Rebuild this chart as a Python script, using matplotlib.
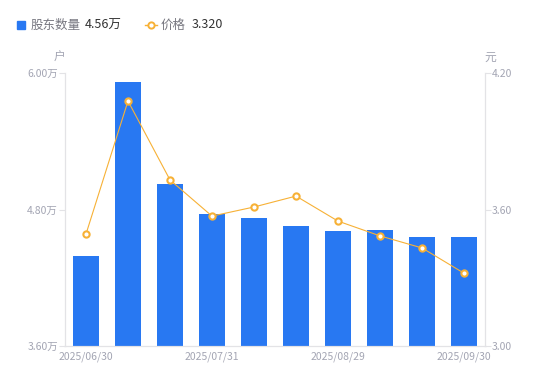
import matplotlib.pyplot as plt
import numpy as np

plt.rcParams['font.family'] = ['Noto Sans CJK SC', 'DejaVu Sans']

# data
dates = ['2025/06/30', '2025/07/10', '2025/07/20', '2025/07/31', '2025/08/10',
         '2025/08/20', '2025/08/29', '2025/09/10', '2025/09/19', '2025/09/30']
holders = [4.39, 5.92, 5.02, 4.76, 4.725, 4.655, 4.61, 4.62, 4.558, 4.56]  # 万户
price = [3.492, 4.077, 3.73, 3.571, 3.611, 3.659, 3.549, 3.484, 3.431, 3.320]
left_ticks = [3.6, 4.8, 6.0]
right_ticks = [3.0, 3.6, 4.2]
shown = [0, 3, 6, 9]

blue = '#2878F2'
orange = '#F7B136'
grey_txt = '#A3A5B3'
axis_c = '#E3E3E6'

fig = plt.figure(figsize=(5.5, 3.81), dpi=100)
ax = fig.add_axes([65 / 550, 1 - 346 / 381, 420 / 550, 273 / 381])
x = np.arange(len(dates))
ax.bar(x, holders, width=0.6, color=blue, zorder=2)
ax.set_xlim(-0.5, len(dates) - 0.5)
ax.set_ylim(left_ticks[0], left_ticks[-1])
ax.set_yticks(left_ticks)
ax.set_yticklabels([f'{v:.2f}万' for v in left_ticks])
ax.set_xticks([x[i] for i in shown])
ax.set_xticklabels([dates[i] for i in shown])

ax2 = ax.twinx()
ax2.plot(x, price, color=orange, lw=0.8, marker='o', ms=4.5, mfc='white',
         mec=orange, mew=1.5, zorder=3)
ax2.set_ylim(right_ticks[0], right_ticks[-1])
ax2.set_yticks(right_ticks)
ax2.set_yticklabels([f'{v:.2f}' for v in right_ticks])

for a in (ax, ax2):
    a.spines['top'].set_visible(False)
    for s in ('left', 'right', 'bottom'):
        a.spines[s].set_color(axis_c)
        a.spines[s].set_linewidth(0.8)
    a.tick_params(colors=axis_c, labelcolor=grey_txt, labelsize=7.5, length=4, width=0.8)
ax.tick_params(axis='x', length=0, pad=4)
ax.tick_params(axis='y', pad=1)
ax2.tick_params(axis='y', pad=1)

fig.text(59 / 550, 1 - 57 / 381, '户', color=grey_txt, fontsize=8.5, ha='center', va='center')
fig.text(490 / 550, 1 - 57 / 381, '元', color=grey_txt, fontsize=8.5, ha='center', va='center')

# legend
ly = 1 - 25 / 381
fig.patches.append(plt.Rectangle((17 / 550, 1 - 29 / 381), 8 / 550, 8 / 381,
                                 transform=fig.transFigure, color=blue, figure=fig))
fig.text(31 / 550, ly, '股东数量', color='#777780', fontsize=9, va='center')
fig.text(85 / 550, ly, f'{holders[-1]:.2f}万', color='#333333', fontsize=9, va='center')
fig.lines.append(plt.Line2D([145 / 550, 157 / 550], [ly, ly], transform=fig.transFigure,
                            color=orange, lw=1, figure=fig))
fig.lines.append(plt.Line2D([151 / 550], [ly], transform=fig.transFigure, ls='none',
                            marker='o', ms=4.5, mfc='white', mec=orange, mew=1.4, figure=fig))
fig.text(161 / 550, ly, '价格', color='#777780', fontsize=9, va='center')
fig.text(192 / 550, ly, f'{price[-1]:.3f}', color='#333333', fontsize=9, va='center')

fig.savefig('out.png', dpi=100)
